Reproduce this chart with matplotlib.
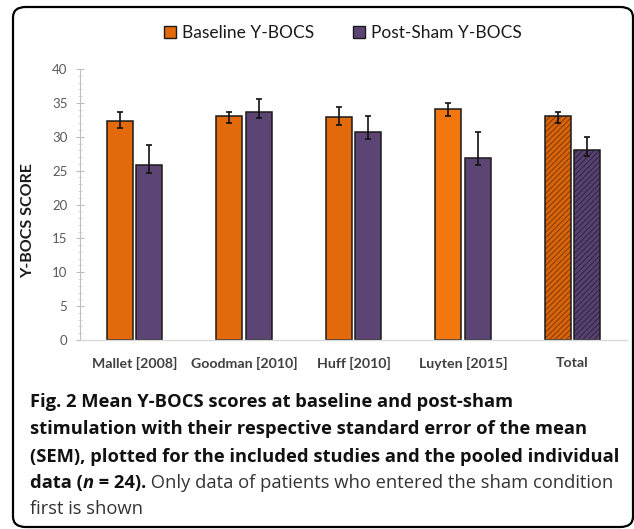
import matplotlib
matplotlib.use("Agg")
import matplotlib.pyplot as plt
import numpy as np
from matplotlib.patches import FancyBboxPatch, Patch
from matplotlib.ticker import MultipleLocator

categories = ["Mallet [2008]", "Goodman [2010]", "Huff [2010]", "Luyten [2015]", "Total"]
baseline = [32.3, 33.1, 32.9, 34.1, 33.1]
baseline_err_low = [1.0, 1.0, 1.1, 1.0, 1.0]
baseline_err_high = [1.4, 0.6, 1.5, 0.9, 0.6]
postsham = [25.8, 33.7, 30.7, 26.9, 28.1]
postsham_err_low = [1.1, 1.0, 1.0, 1.0, 1.0]
postsham_err_high = [3.0, 1.9, 2.3, 3.8, 1.8]
yticks = [0, 5, 10, 15, 20, 25, 30, 35, 40]

W, H = 634, 529
DPI = 100
fig = plt.figure(figsize=(W / DPI, H / DPI), dpi=DPI)
plt.rcParams['hatch.linewidth'] = 0.8

def fx(px):
    return px / W

def fy(py):
    return 1 - py / H

# rounded frame
frame = FancyBboxPatch((fx(13), fy(527)), fx(633) - fx(13), fy(7) - fy(527),
                       boxstyle="round,pad=0,rounding_size=0.02",
                       transform=fig.transFigure, facecolor="none",
                       edgecolor="black", linewidth=1.6, zorder=5)
fig.patches.append(frame)

ax = fig.add_axes([fx(80), fy(340), fx(627) - fx(80), fy(69) - fy(340)])
ax.set_facecolor("none")

x = np.arange(len(categories))
bw = 0.238
off = 0.135
base_colors = ["#E36A0A", "#E36A0A", "#E36A0A", "#F4760E", "#D8650A"]
post_colors = ["#5C4575", "#5C4575", "#5C4575", "#5C4575", "#584270"]
hatch_base = "#8A3D05"
hatch_post = "#33264A"
hatched = [False, False, False, False, True]

for i in range(len(categories)):
    if hatched[i]:
        ax.bar(x[i] - off, baseline[i], width=bw, color=base_colors[i],
               edgecolor=hatch_base, linewidth=0, hatch="//////", zorder=2)
        ax.bar(x[i] + off, postsham[i], width=bw, color=post_colors[i],
               edgecolor=hatch_post, linewidth=0, hatch="//////", zorder=2)
        ax.bar(x[i] - off, baseline[i], width=bw, fill=False,
               edgecolor="#1a1a1a", linewidth=1.1, zorder=2.5)
        ax.bar(x[i] + off, postsham[i], width=bw, fill=False,
               edgecolor="#1a1a1a", linewidth=1.1, zorder=2.5)
    else:
        ax.bar(x[i] - off, baseline[i], width=bw, color=base_colors[i],
               edgecolor="#1a1a1a", linewidth=1.1, zorder=2)
        ax.bar(x[i] + off, postsham[i], width=bw, color=post_colors[i],
               edgecolor="#1a1a1a", linewidth=1.1, zorder=2)

ax.errorbar(x - off, baseline, yerr=[baseline_err_low, baseline_err_high],
            fmt="none", ecolor="#111111", elinewidth=1.2, capsize=2.2,
            capthick=1.2, zorder=3)
ax.errorbar(x + off, postsham, yerr=[postsham_err_low, postsham_err_high],
            fmt="none", ecolor="#111111", elinewidth=1.2, capsize=2.2,
            capthick=1.2, zorder=3)

ax.set_xlim(-0.5, len(categories) - 0.5)
ax.set_ylim(0, 40)
ax.set_yticks(yticks)
ax.set_yticklabels([str(t) for t in yticks], fontfamily="Lato", fontsize=9.5,
                   color="#595959")
ax.yaxis.set_minor_locator(MultipleLocator(1))
ax.tick_params(axis="y", which="major", direction="inout", length=6,
               color="#BFBFBF", width=0.8, pad=6)
ax.tick_params(axis="y", which="minor", direction="inout", length=3,
               color="#D0D0D0", width=0.6)
ax.set_xticks(x)
ax.set_xticklabels(categories, fontfamily="Lato", fontweight="bold",
                   fontsize=10.2, color="#404040")
ax.tick_params(axis="x", length=0, pad=12)
for s in ["top", "right"]:
    ax.spines[s].set_visible(False)
ax.spines["left"].set_color("#BFBFBF")
ax.spines["bottom"].set_color("#D9D9D9")
ax.spines["left"].set_linewidth(0.8)
ax.spines["bottom"].set_linewidth(1.0)

fig.text(fx(28), fy(221), "Y-BOCS SCORE", rotation=90, ha="center", va="center",
         fontfamily="Lato", fontweight="bold", fontsize=11.5, color="#1a1a1a")

handles = [Patch(facecolor="#E36A0A", edgecolor="#1a1a1a", linewidth=1.0),
           Patch(facecolor="#5C4575", edgecolor="#1a1a1a", linewidth=1.0)]
fig.legend(handles, ["Baseline Y-BOCS", "Post-Sham Y-BOCS"], loc="center",
           bbox_to_anchor=(fx(343), fy(33)), ncol=2, frameon=False,
           prop={"family": "Lato", "size": 12.5}, handlelength=0.7,
           handleheight=0.7, handletextpad=0.35, columnspacing=2.2,
           labelcolor="#1a1a1a")

# caption
cap_font = "Open Sans"
renderer = fig.canvas.get_renderer()
probe = fig.text(0, 0, "(SEM), plotted for the included studies and the pooled individual",
                 fontfamily=cap_font, fontweight="bold", fontsize=12)
wpx = probe.get_window_extent(renderer).width
probe.remove()
cs = 12 * 589.0 / wpx

bold_lines = ["Fig. 2 Mean Y-BOCS scores at baseline and post-sham",
              "stimulation with their respective standard error of the mean",
              "(SEM), plotted for the included studies and the pooled individual"]
baselines_px = [407, 434.5, 461.5, 488, 514]
for line, b in zip(bold_lines, baselines_px[:3]):
    fig.text(fx(30), fy(b), line, fontfamily=cap_font, fontweight="bold",
             fontsize=cs, color="#111111", va="baseline")

pieces = [("data (", "bold", "normal", "#111111"),
          ("n", "bold", "italic", "#111111"),
          (" = 24).", "bold", "normal", "#111111"),
          (" Only data of patients who entered the sham condition", "normal", "normal", "#333333")]
cur = 30.0
for txt, wt, st, col in pieces:
    t = fig.text(fx(cur), fy(baselines_px[3]), txt, fontfamily=cap_font,
                 fontweight=wt, fontstyle=st, fontsize=cs, color=col, va="baseline")
    cur += t.get_window_extent(renderer).width
fig.text(fx(30), fy(baselines_px[4]), "first is shown", fontfamily=cap_font,
         fontsize=cs, color="#333333", va="baseline")

fig.savefig("out.png", dpi=DPI)
